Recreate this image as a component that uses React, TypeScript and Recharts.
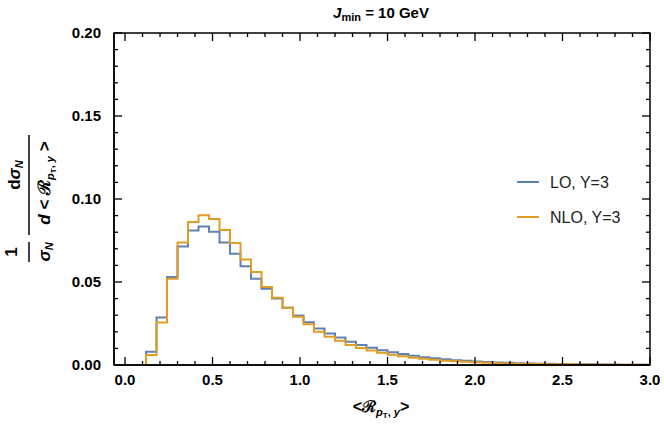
import { LineChart, Line, XAxis, YAxis } from 'recharts'

// left edges of the 0.06-wide bins, last entry closes the final bin
const binEdges = [
  0.12, 0.18, 0.24, 0.3, 0.36, 0.42, 0.48, 0.54, 0.6, 0.66, 0.72, 0.78, 0.84, 0.9, 0.96, 1.02,
  1.08, 1.14, 1.2, 1.26, 1.32, 1.38, 1.44, 1.5, 1.56, 1.62, 1.68, 1.74, 1.8, 1.86, 1.92, 1.98,
  2.04, 2.1, 2.16, 2.22, 2.28, 2.34, 2.4, 2.46, 2.52, 2.58, 2.64, 2.7, 2.76, 2.82, 2.88, 2.94, 3.0,
]

const loValues = [
  0.008, 0.0286, 0.053, 0.0714, 0.081, 0.0834, 0.0802, 0.0738, 0.067, 0.0595, 0.052, 0.046,
  0.04, 0.0345, 0.0298, 0.0258, 0.022, 0.019, 0.0165, 0.014, 0.012, 0.0104, 0.0089, 0.0077,
  0.0066, 0.0056, 0.0047, 0.004, 0.0034, 0.0029, 0.0025, 0.0021, 0.0018, 0.0015, 0.0013,
  0.0011, 0.0009, 0.0008, 0.0007, 0.0006, 0.0005, 0.0004, 0.0004, 0.0003, 0.0003, 0.0002,
  0.0002, 0.0002,
]

const nloValues = [
  0.006, 0.0256, 0.052, 0.0738, 0.0862, 0.0902, 0.088, 0.0814, 0.0735, 0.0635, 0.056, 0.047,
  0.0405, 0.0345, 0.029, 0.0245, 0.02, 0.017, 0.0146, 0.012, 0.0102, 0.0087, 0.0074, 0.0062,
  0.0052, 0.0044, 0.0037, 0.0031, 0.0026, 0.0022, 0.0019, 0.0016, 0.0013, 0.0011, 0.0009,
  0.0008, 0.0007, 0.0006, 0.0005, 0.0004, 0.0004, 0.0003, 0.0003, 0.0002, 0.0002, 0.0002,
  0.0001, 0.0001,
]

const xTicks = [
  0, 0.1, 0.2, 0.3, 0.4, 0.5, 0.6, 0.7, 0.8, 0.9, 1.0, 1.1, 1.2, 1.3, 1.4, 1.5, 1.6, 1.7, 1.8,
  1.9, 2.0, 2.1, 2.2, 2.3, 2.4, 2.5, 2.6, 2.7, 2.8, 2.9, 3.0,
]
const yTicks = [
  0, 0.01, 0.02, 0.03, 0.04, 0.05, 0.06, 0.07, 0.08, 0.09, 0.1, 0.11, 0.12, 0.13, 0.14, 0.15,
  0.16, 0.17, 0.18, 0.19, 0.2,
]

const seriesNames = ['LO, Y=3', 'NLO, Y=3']
const colors = ['#5E81B5', '#E19C24']

const X_DOMAIN = [-0.063, 3]
const Y_DOMAIN = [0, 0.2]

// plot box in pixels (margins + axis sizes below)
const PLOT = { left: 114, top: 33, right: 650, bottom: 365 }

const last = loValues.length - 1
const data = [
  { x: binEdges[0], lo: 0, nlo: 0 },
  ...loValues.map((v, i) => ({ x: binEdges[i], lo: v, nlo: nloValues[i] })),
  { x: binEdges[last + 1], lo: loValues[last], nlo: nloValues[last] },
]

const font = '"Liberation Sans", Arial, sans-serif'
const isMajor = (v: number, step: number) => Math.abs(v / step - Math.round(v / step)) < 1e-6

const px = (v: number) =>
  PLOT.left + ((v - X_DOMAIN[0]) / (X_DOMAIN[1] - X_DOMAIN[0])) * (PLOT.right - PLOT.left)
const py = (v: number) =>
  PLOT.bottom - ((v - Y_DOMAIN[0]) / (Y_DOMAIN[1] - Y_DOMAIN[0])) * (PLOT.bottom - PLOT.top)

const bottomTick = (props: any) => {
  const { x, y, payload } = props
  if (!isMajor(payload.value, 0.5)) return <g />
  return (
    <text x={x} y={y + 20} textAnchor="middle" fontFamily={font} fontWeight="bold" fontSize={15} fill="#000">
      {payload.value.toFixed(1)}
    </text>
  )
}

const leftTick = (props: any) => {
  const { x, y, payload } = props
  if (!isMajor(payload.value, 0.05)) return <g />
  return (
    <text x={x - 13} y={y + 5} textAnchor="end" fontFamily={font} fontWeight="bold" fontSize={15} fill="#000">
      {payload.value.toFixed(2)}
    </text>
  )
}

// frame with inward ticks on all four sides
function Frame() {
  return (
    <g stroke="#000" fill="none">
      <rect
        x={PLOT.left}
        y={PLOT.top}
        width={PLOT.right - PLOT.left}
        height={PLOT.bottom - PLOT.top}
        strokeWidth={1.5}
      />
      {xTicks.map((v) => {
        const len = isMajor(v, 0.5) ? 8 : 4
        const x = px(v)
        return (
          <g key={`x${v}`} strokeWidth={1.3}>
            <line x1={x} x2={x} y1={PLOT.bottom} y2={PLOT.bottom - len} />
            <line x1={x} x2={x} y1={PLOT.top} y2={PLOT.top + len} />
          </g>
        )
      })}
      {yTicks.map((v) => {
        const len = isMajor(v, 0.05) ? 8 : 4
        const y = py(v)
        return (
          <g key={`y${v}`} strokeWidth={1.3}>
            <line x1={PLOT.left} x2={PLOT.left + len} y1={y} y2={y} />
            <line x1={PLOT.right} x2={PLOT.right - len} y1={y} y2={y} />
          </g>
        )
      })}
    </g>
  )
}

function Labels() {
  const bold = { fontFamily: font, fontWeight: 'bold' as const, fill: '#000' }
  return (
    <svg width={664} height={426} style={{ position: 'absolute', left: 0, top: 0, pointerEvents: 'none' }}>
      <Frame />

      <text x={381} y={18} textAnchor="middle" fontSize={15} {...bold}>
        <tspan fontStyle="italic">J</tspan>
        <tspan fontSize={11} dy={3}>min</tspan>
        <tspan dy={-3}> = 10  GeV</tspan>
      </text>

      <line x1={29} x2={29} y1={242} y2={262} stroke="#000" strokeWidth={1.5} />
      <text transform="translate(17,252) rotate(-90)" textAnchor="middle" fontSize={17} {...bold}>1</text>
      <text transform="translate(50,252) rotate(-90)" textAnchor="middle" fontSize={17} {...bold}>
        <tspan fontStyle="italic">σ</tspan>
        <tspan fontSize={11} dy={3} fontStyle="italic">N</tspan>
      </text>

      <line x1={29} x2={29} y1={135} y2={235} stroke="#000" strokeWidth={1.5} />
      <text transform="translate(20,175) rotate(-90)" textAnchor="middle" fontSize={17} {...bold}>
        d<tspan fontStyle="italic">σ</tspan>
        <tspan fontSize={11} dy={3} fontStyle="italic">N</tspan>
      </text>
      <text transform="translate(50,183) rotate(-90)" textAnchor="middle" fontSize={17} {...bold}>
        <tspan fontStyle="italic">d</tspan>
        <tspan> &lt; ℛ</tspan>
        <tspan fontSize={11} dy={4} fontStyle="italic">p</tspan>
        <tspan fontSize={8} dy={2}>T</tspan>
        <tspan fontSize={11} dy={-2}>, </tspan>
        <tspan fontSize={11} fontStyle="italic">y</tspan>
        <tspan dy={-4}> &gt;</tspan>
      </text>

      <text x={381} y={412} textAnchor="middle" fontSize={16} {...bold}>
        <tspan>&lt;ℛ</tspan>
        <tspan fontSize={11} dy={4} fontStyle="italic">p</tspan>
        <tspan fontSize={8} dy={2}>T</tspan>
        <tspan fontSize={11} dy={-2}>, </tspan>
        <tspan fontSize={11} fontStyle="italic">y</tspan>
        <tspan dy={-4}>&gt;</tspan>
      </text>

      {seriesNames.map((name, i) => (
        <g key={name}>
          <line x1={517} x2={539} y1={182 + i * 35} y2={182 + i * 35} stroke={colors[i]} strokeWidth={2} />
          <text x={550} y={188 + i * 35} fontFamily={font} fontSize={16} fill="#222">
            {name}
          </text>
        </g>
      ))}
    </svg>
  )
}

export default function App() {
  return (
    <div style={{ position: 'absolute', left: 0, top: 0, width: 664, height: 426, background: '#fff' }}>
      <LineChart
        width={664}
        height={426}
        data={data}
        margin={{ top: PLOT.top, right: 664 - PLOT.right, bottom: 0, left: 0 }}
      >
        <XAxis
          dataKey="x"
          type="number"
          domain={X_DOMAIN}
          ticks={xTicks}
          height={426 - PLOT.bottom}
          tickSize={0}
          tickMargin={0}
          tickLine={false}
          axisLine={{ stroke: '#000', strokeWidth: 1.5 }}
          tick={bottomTick}
          interval={0}
        />
        <YAxis
          type="number"
          domain={Y_DOMAIN}
          ticks={yTicks}
          width={PLOT.left}
          tickSize={0}
          tickMargin={0}
          tickLine={false}
          axisLine={{ stroke: '#000', strokeWidth: 1.5 }}
          tick={leftTick}
          interval={0}
        />
        <Line
          type="stepAfter"
          dataKey="lo"
          name={seriesNames[0]}
          stroke={colors[0]}
          strokeWidth={2}
          dot={false}
          isAnimationActive={false}
        />
        <Line
          type="stepAfter"
          dataKey="nlo"
          name={seriesNames[1]}
          stroke={colors[1]}
          strokeWidth={2}
          dot={false}
          isAnimationActive={false}
        />
      </LineChart>
      <Labels />
    </div>
  )
}
